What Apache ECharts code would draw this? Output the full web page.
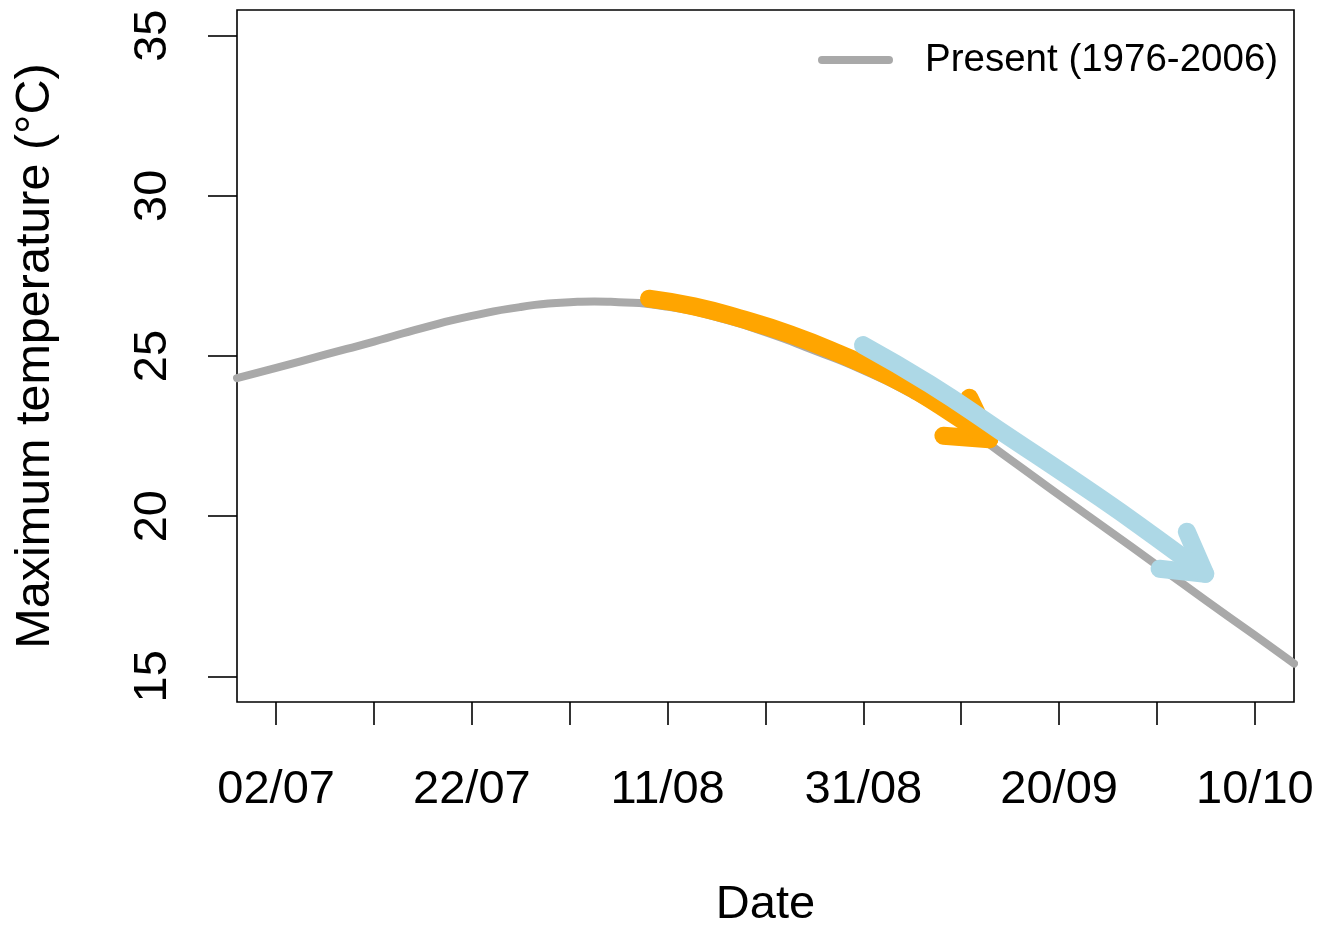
<!DOCTYPE html>
<html>
<head>
<meta charset="utf-8">
<script src="https://cdn.jsdelivr.net/npm/echarts@6/dist/echarts.min.js"></script>
<style>
html,body{margin:0;padding:0;background:#fff;}
#chart{width:1319px;height:928px;}
</style>
</head>
<body>
<div id="chart"></div>
<script>
// ---- data (x = days after 02/07, y = °C) ----
const presentDays  = [-4, 0, 5, 10, 15, 20, 25, 30, 32.5, 35, 40, 45, 50, 55, 60, 65, 70, 75, 80, 85, 90, 95, 100, 104];
const presentTemps = [24.31, 24.63, 25.04, 25.45, 25.88, 26.25, 26.53, 26.68, 26.70, 26.68, 26.54, 26.21, 25.74, 25.17, 24.55, 23.80, 22.86, 21.77, 20.66, 19.57, 18.47, 17.37, 16.28, 15.40];

const orangeDays  = [38.1, 42.7, 47.3, 52.5, 57.6, 62.7, 67.8, 72.86];
const orangeTemps = [26.79, 26.55, 26.18, 25.68, 25.06, 24.35, 23.46, 22.40];

const blueDays  = [59.96, 66.79, 73.95, 84.19, 89.82, 94.93];
const blueTemps = [25.34, 24.12, 22.67, 20.57, 19.35, 18.20];

const xTickDays  = [0, 10, 20, 30, 40, 50, 60, 70, 80, 90, 100];
const xLabelDays = [0, 20, 40, 60, 80, 100];
const xLabels    = ['02/07', '22/07', '11/08', '31/08', '20/09', '10/10'];
const yTicks     = [15, 20, 25, 30, 35];

const FONT = 'Liberation Sans, Arial, Helvetica, sans-serif';
const pairs = (xs, ys) => xs.map((x, i) => [x, ys[i]]);

function headData(xs, ys) {
  const n = xs.length;
  return [[xs[n - 1], ys[n - 1], xs[n - 2], ys[n - 2]]];
}
function headRenderer(color, width) {
  return function (params, api) {
    const tip = api.coord([api.value(0), api.value(1)]);
    const prev = api.coord([api.value(2), api.value(3)]);
    const ang = Math.atan2(tip[1] - prev[1], tip[0] - prev[0]);
    const L = 46, a = Math.PI / 6;
    const w1 = [tip[0] - L * Math.cos(ang - a), tip[1] - L * Math.sin(ang - a)];
    const w2 = [tip[0] - L * Math.cos(ang + a), tip[1] - L * Math.sin(ang + a)];
    return {
      type: 'polyline',
      shape: { points: [w1, tip, w2] },
      style: { stroke: color, lineWidth: width, fill: null, lineCap: 'round', lineJoin: 'round' }
    };
  };
}

const chart = echarts.init(document.getElementById('chart'), null, { renderer: 'canvas' });
chart.setOption({
  backgroundColor: '#fff',
  animation: false,
  grid: { left: 237, right: 25, top: 10, bottom: 226, outerBoundsMode: 'none', containLabel: false, show: true, borderColor: '#000', borderWidth: 1.6, backgroundColor: 'transparent' },
  legend: {
    data: ['Present (1976-2006)'],
    left: 818, top: 40, padding: 0,
    itemWidth: 75, itemHeight: 8,
    icon: 'path://M4,0 L71,0 A4,4 0 0 1 71,8 L4,8 A4,4 0 0 1 4,0 Z',
    textStyle: { fontSize: 38.5, fontFamily: FONT, color: '#000', lineHeight: 40, padding: [0, 0, 0, 27] }
  },
  xAxis: {
    type: 'value', min: -4, max: 104,
    name: 'Date', nameLocation: 'middle', nameGap: 180,
    nameTextStyle: { fontSize: 47, fontFamily: FONT, color: '#000' },
    axisLine: { show: false, onZero: false },
    axisTick: { show: true, inside: false, length: 23, customValues: xTickDays, lineStyle: { color: '#000', width: 1.6 } },
    axisLabel: {
      show: true, customValues: xLabelDays, margin: 65,
      fontSize: 47, fontFamily: FONT, color: '#000',
      formatter: v => xLabels[xLabelDays.indexOf(v)] || ''
    },
    splitLine: { show: false }
  },
  yAxis: {
    type: 'value', min: 14.2, max: 35.8,
    name: 'Maximum temperature (°C)', nameLocation: 'middle', nameGap: 177, nameRotate: 90,
    nameTextStyle: { fontSize: 48.5, fontFamily: FONT, color: '#000' },
    axisLine: { show: false, onZero: false },
    axisTick: { show: true, inside: false, length: 29, customValues: yTicks, lineStyle: { color: '#000', width: 1.6 } },
    axisLabel: { show: true, customValues: yTicks, rotate: 90, margin: 60, fontSize: 47, fontFamily: FONT, color: '#000' },
    splitLine: { show: false }
  },
  series: [
    {
      name: 'Present (1976-2006)', type: 'line', z: 2,
      data: pairs(presentDays, presentTemps), smooth: 0.6, symbol: 'none',
      itemStyle: { color: '#A9A9A9' },
      lineStyle: { color: '#A9A9A9', width: 8, cap: 'round', join: 'round' }
    },
    {
      name: 'orange', type: 'line', z: 3,
      data: pairs(orangeDays, orangeTemps), smooth: 0.5, symbol: 'none',
      lineStyle: { color: '#FFA500', width: 18, cap: 'round', join: 'round' }
    },
    {
      name: 'orangeHead', type: 'custom', z: 3, clip: false,
      encode: { x: [0, 2], y: [1, 3] },
      data: headData(orangeDays, orangeTemps),
      renderItem: headRenderer('#FFA500', 18)
    },
    {
      name: 'blue', type: 'line', z: 4,
      data: pairs(blueDays, blueTemps), smooth: 0.5, symbol: 'none',
      lineStyle: { color: '#ADD8E6', width: 18, cap: 'round', join: 'round' }
    },
    {
      name: 'blueHead', type: 'custom', z: 4, clip: false,
      encode: { x: [0, 2], y: [1, 3] },
      data: headData(blueDays, blueTemps),
      renderItem: headRenderer('#ADD8E6', 18)
    }
  ]
});
</script>
</body>
</html>
